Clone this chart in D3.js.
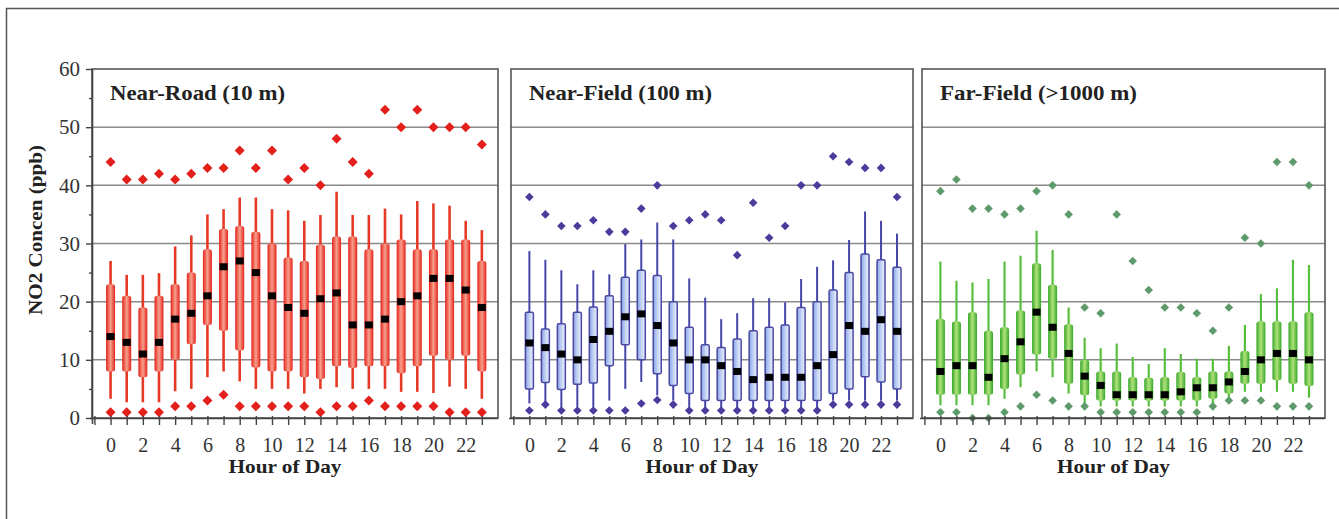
<!DOCTYPE html>
<html><head><meta charset="utf-8">
<script src="https://cdn.jsdelivr.net/npm/d3@7"></script>
<style>body{margin:0;background:#fff}svg{display:block}text{font-family:"Liberation Serif","Times New Roman",serif}</style>
</head><body>
<svg id="c" width="1339" height="519"></svg>
<script>
// ---------- DATA ----------
const hours = [0,1,2,3,4,5,6,7,8,9,10,11,12,13,14,15,16,17,18,19,20,21,22,23];
const xTickLabels = [0,2,4,6,8,10,12,14,16,18,20,22];
const yTickLabels = [0,10,20,30,40,50,60];
const panelTitles = ["Near-Road (10 m)", "Near-Field (100 m)", "Far-Field (>1000 m)"];

// Near-Road (10 m)
const nrWhiskerHi = [27,24.6,24.6,24.9,29.5,31.4,35,35.9,37.9,37.9,35.9,35.7,33.9,34.9,38.9,34.9,34.9,36,35,37.3,36.9,36.5,33.9,32.3];
const nrQ3        = [23,21,19,21,23,25,29,32.5,33,32,30,27.6,27,29.8,31.2,31.2,29,30,30.7,29,29,30.7,30.7,27];
const nrMedian    = [14,13,11,13,17,18,21,26,27,25,21,19,18,20.5,21.5,16,16,17,20,21,24,24,22,19];
const nrQ1        = [8,8,7,8,10,12.7,16,15,11.6,8.7,8,8,7,6.7,8.9,8.6,8.9,8.9,7.7,8.9,10.7,10,10.7,8];
const nrWhiskerLo = [3.3,2.7,2.7,2.7,4.6,5,7,8,6.3,5,5,5,4.2,5,5.3,5,5,5,4.5,4.5,4.3,5.4,5,3.3];
const nrOutHi     = [44,41,41,42,41,42,43,43,46,43,46,41,43,40,48,44,42,53,50,53,50,50,50,47];
const nrOutLo     = [1,1,1,1,2,2,3,4,2,2,2,2,2,1,2,2,3,2,2,2,2,1,1,1];

// Near-Field (100 m)
const nfWhiskerHi = [28.7,27.2,25.4,23,25.4,24.7,29.9,30.7,33.6,30.7,24,20.7,17,18,20.6,20.6,19.9,23.9,26,27.1,30.6,35.5,33.9,31.7];
const nfQ3        = [18.2,15.3,16.2,18.2,19.1,21,24.2,25.4,24.5,20,15.6,12.6,12.1,13.6,15,15.6,16,19,20,22,25,28.2,27.2,25.9];
const nfMedian    = [12.9,12.1,11,10,13.5,14.9,17.4,17.9,15.9,12.9,10,10,9,8,6.6,7,7,7,9,10.9,15.9,14.9,16.9,14.9];
const nfQ1        = [5,6.1,4.9,5.8,6,9,12.6,10,7.6,5.6,4.2,3,3,3,3,3,3,3,3,4.2,5,7.1,6.2,5];
const nfWhiskerLo = [2.5,2.5,1.9,1.9,1.9,3,5,6.2,3.9,3,1.9,1.8,1.8,1.8,1.8,1.8,1.8,1.8,1.8,3,3,3,3,3];
const nfOutHi     = [38,35,33,33,34,32,32,36,40,33,34,35,34,28,37,31,33,40,40,45,44,43,43,38];
const nfOutLo     = [1.3,2.3,1.3,1.3,1.3,1.3,1.3,2.5,3.1,2.3,1.3,1.3,1.3,1.3,1.3,1.3,1.3,1.3,1.3,2.3,2.3,2.3,2.3,2.3];

// Far-Field (>1000 m)
const ffWhiskerHi = [26.9,23.6,23.3,23.9,26.9,27.9,32.2,28.9,19,13.8,12,12.8,10.5,9.3,12,11,10.2,10.2,12.4,16,21.3,22.3,27.2,26.3];
const ffQ3        = [17,16.6,18.2,15,15.6,18.5,26.6,22.9,16.1,10,8,8,7,6.9,7,7.9,7,8,8,11.5,16.6,16.6,16.6,18.2];
const ffMedian    = [8,9,9,7,10.2,13.1,18.2,15.6,11.1,7.2,5.6,4,4,4,4,4.5,5.2,5.2,6.2,8,10,11.1,11.1,10];
const ffQ1        = [4,4,4,4,5,7.5,10.9,10.2,5.9,3.9,3,3,3,3,3,3,3,3.3,4.2,5.9,5.9,6.5,5.9,5.5];
const ffWhiskerLo = [2.2,2.2,2.2,2.2,3.3,5.3,8,7,4.2,2.5,2,2,2,2,2,2,2,2.5,3.2,4.5,4.5,4.5,4.5,3.5];
const ffOutHi     = [39,41,36,36,35,36,39,40,35,19,18,35,27,22,19,19,18,15,19,31,30,44,44,40];
const ffOutLo     = [1,1,0,0,1,2,4,3,2,2,1,1,1,1,1,1,1,2,3,3,3,2,2,2];

// ---------- BUILD ----------
const series = [
  {title: panelTitles[0], hi: nrWhiskerHi, q3: nrQ3, med: nrMedian, q1: nrQ1, lo: nrWhiskerLo, oh: nrOutHi, ol: nrOutLo},
  {title: panelTitles[1], hi: nfWhiskerHi, q3: nfQ3, med: nfMedian, q1: nfQ1, lo: nfWhiskerLo, oh: nfOutHi, ol: nfOutLo},
  {title: panelTitles[2], hi: ffWhiskerHi, q3: ffQ3, med: ffMedian, q1: ffQ1, lo: ffWhiskerLo, oh: ffOutHi, ol: ffOutLo}
];
const layout = [
  {x0: 92,  x1: 498,  titleW: 175, style: "red"},
  {x0: 511, x1: 913,  titleW: 183, style: "blue"},
  {x0: 922, x1: 1325, titleW: 197, style: "green"}
];
const styles = {
  red:   {whisker: "#e63a26", ww: 2.6, boxFill: "url(#gRed)",   boxStroke: "none",    bw: 9, dot: "#e3201c", r: 5},
  blue:  {whisker: "#4646a8", ww: 2,   boxFill: "url(#gBlue)",  boxStroke: "#4848a6", bw: 8, dot: "#4a3c9c", r: 4.3},
  green: {whisker: "#58bf3e", ww: 2.2, boxFill: "url(#gGreen)", boxStroke: "none",    bw: 9, dot: "#5e9b6c", r: 4.3}
};
const yTop = 69, yBot = 418;

const svg = d3.select("#c");
const defs = svg.append("defs");
function grad(id, stops){
  const g = defs.append("linearGradient").attr("id", id).attr("x1","0%").attr("x2","100%").attr("y1","0%").attr("y2","0%");
  stops.forEach(s => g.append("stop").attr("offset", s[0]).attr("stop-color", s[1]));
}
grad("gRed",   [["0%","#e5221a"],["50%","#f7a08c"],["100%","#e5221a"]]);
grad("gBlue",  [["0%","#8ca4e4"],["55%","#c7d5f5"],["100%","#eef2fd"]]);
grad("gGreen", [["0%","#36a82a"],["50%","#b2e27a"],["100%","#36a82a"]]);

// outer frame
svg.append("path").attr("d", "M6.5,540V8.5H1350").attr("fill","none").attr("stroke","#555").attr("stroke-width",1.5);

const y = d3.scaleLinear().domain([0, 60]).range([yBot, yTop]);

series.forEach((s, i) => {
  const L = layout[i], st = styles[L.style];
  const x = d3.scaleLinear().domain([-1.15, 24]).range([L.x0, L.x1]);
  const g = svg.append("g");

  // gridlines
  g.selectAll("line.grid").data([10,20,30,40,50]).join("line")
    .attr("x1", L.x0).attr("x2", L.x1).attr("y1", d => y(d)).attr("y2", d => y(d))
    .attr("stroke", "#8a8a8a").attr("stroke-width", 1.5);

  const rows = hours.map((h, k) => ({h, hi: s.hi[k], q3: s.q3[k], med: s.med[k], q1: s.q1[k], lo: s.lo[k], oh: s.oh[k], ol: s.ol[k]}));

  // whiskers
  g.selectAll("line.wh").data(rows).join("line")
    .attr("x1", d => x(d.h)).attr("x2", d => x(d.h))
    .attr("y1", d => y(d.hi)).attr("y2", d => y(d.lo))
    .attr("stroke", st.whisker).attr("stroke-width", st.ww);

  // boxes
  g.selectAll("rect.box").data(rows).join("rect")
    .attr("x", d => x(d.h) - st.bw/2).attr("width", st.bw)
    .attr("y", d => y(d.q3)).attr("height", d => y(d.q1) - y(d.q3))
    .attr("rx", L.style === "blue" ? 1.5 : 2.5)
    .attr("fill", st.boxFill).attr("stroke", st.boxStroke).attr("stroke-width", 1.5);

  // medians
  g.selectAll("rect.med").data(rows).join("rect")
    .attr("x", d => x(d.h) - 4).attr("width", 8)
    .attr("y", d => y(d.med) - 3.5).attr("height", 7)
    .attr("fill", "#000");

  // outliers
  const diamond = r => `M0,${-r}L${r},0L0,${r}L${-r},0Z`;
  const outs = rows.flatMap(d => [{h: d.h, v: d.oh}, {h: d.h, v: d.ol}]);
  g.selectAll("path.out").data(outs).join("path")
    .attr("d", diamond(st.r))
    .attr("transform", d => `translate(${x(d.h)},${y(d.v)})`)
    .attr("fill", st.dot);

  // panel border
  g.append("rect").attr("x", L.x0).attr("y", yTop).attr("width", L.x1 - L.x0).attr("height", yBot - yTop)
    .attr("fill", "none").attr("stroke", "#555").attr("stroke-width", 1.6);

  // x axis
  const xAxis = d3.axisBottom(x).tickValues(d3.range(-1, 24)).tickSizeInner(7).tickSizeOuter(0)
    .tickFormat(d => xTickLabels.includes(d) ? String(d) : "");
  const ax = g.append("g").attr("transform", `translate(0,${yBot})`).call(xAxis);
  ax.select(".domain").attr("stroke", "#444").attr("stroke-width", 1.6).attr("d", `M${L.x0 - 2},0.5H${L.x1}`);
  ax.selectAll(".tick line").attr("stroke", "#444").attr("stroke-width", 1.4).attr("y1", -2);
  ax.selectAll(".tick text").attr("font-size", 20).attr("fill", "#333").attr("dy", "1.2em")
    .style("font-family", '"Liberation Serif", serif');

  // x axis title
  g.append("text").attr("x", (L.x0 + L.x1) / 2 - 10).attr("y", 473).attr("text-anchor", "middle")
    .attr("font-size", 19).attr("font-weight", "bold").attr("fill", "#222")
    .attr("textLength", 113).attr("lengthAdjust", "spacingAndGlyphs").text("Hour of Day");

  // panel title
  g.append("text").attr("x", L.x0 + 18).attr("y", 100)
    .attr("font-size", 21).attr("font-weight", "bold").attr("fill", "#222")
    .attr("textLength", L.titleW).attr("lengthAdjust", "spacingAndGlyphs").text(s.title);

  if (i === 0) {
    const yAxis = d3.axisLeft(y).tickValues(yTickLabels).tickSizeInner(6).tickSizeOuter(0).tickPadding(6);
    const ay = g.append("g").attr("transform", `translate(${L.x0},0)`).call(yAxis);
    ay.select(".domain").attr("stroke", "#444").attr("stroke-width", 1.6).attr("d", `M0.5,${yTop}V${yBot + 6}`);
    ay.selectAll(".tick line").attr("stroke", "#444").attr("stroke-width", 1.4);
    ay.selectAll(".tick text").attr("font-size", 21).attr("fill", "#333")
      .style("font-family", '"Liberation Serif", serif');
    const yMinor = d3.axisLeft(y).tickValues([5,15,25,35,45,55]).tickSizeInner(3).tickSizeOuter(0).tickFormat("");
    const am = g.append("g").attr("transform", `translate(${L.x0},0)`).call(yMinor);
    am.select(".domain").remove();
    am.selectAll(".tick line").attr("stroke", "#444").attr("stroke-width", 1.4);

    // y axis title
    g.append("text").attr("transform", `translate(42,230) rotate(-90)`).attr("text-anchor", "middle")
      .attr("font-size", 18).attr("font-weight", "bold").attr("fill", "#222")
      .attr("textLength", 170).attr("lengthAdjust", "spacingAndGlyphs").text("NO2 Concen (ppb)");
  }
});
</script>
</body></html>
